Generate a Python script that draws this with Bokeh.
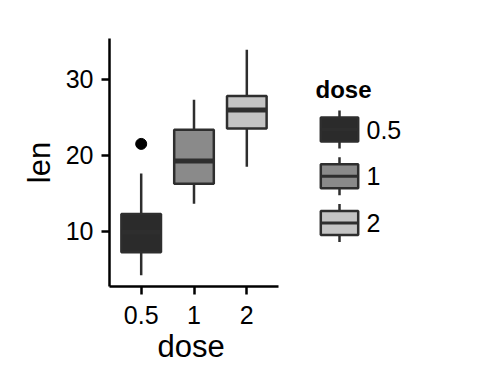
from bokeh.plotting import figure
from bokeh.models import Range1d, FixedTicker, Title
from bokeh.core.properties import value
from bokeh.embed import file_html
from bokeh.resources import INLINE

# ---- data (ToothGrowth len by dose) ----
doses = ["0.5", "1", "2"]
lower_whisker = [4.2, 13.6, 18.5]
q1 = [7.225, 16.25, 23.525]
median = [9.85, 19.25, 25.95]
q3 = [12.25, 23.375, 27.825]
upper_whisker = [17.6, 27.3, 33.9]
outlier_dose = ["0.5"]
outlier_len = [21.5]
y_ticks = [10, 20, 30]

fills = ["#2b2b2b", "#8a8a8a", "#c4c4c4"]
edge = "#2e2e2e"
FONT = "Liberation Sans"

pos = [i + 1 for i in range(len(doses))]
box_w = 0.75

# ---- layout (pixels) ----
W, H = 470, 376
border_left, border_top = 109, 38
panel_w = 169          # width of the boxplot panel
frame_h = 248
frame_w = W - border_left
x_lo, x_hi = 0.4, 3.6
x_end = x_lo + frame_w * (x_hi - x_lo) / panel_w

p = figure(width=W, height=H,
           x_range=Range1d(x_lo, x_end), y_range=Range1d(2.715, 35.385),
           output_backend="svg", toolbar_location=None,
           min_border_left=border_left, min_border_right=0,
           min_border_top=border_top, min_border_bottom=H - border_top - frame_h)
p.outline_line_color = None
p.xgrid.visible = False
p.ygrid.visible = False
p.background_fill_color = "white"
p.border_fill_color = "white"

# whiskers
p.segment(x0=pos, y0=q3, x1=pos, y1=upper_whisker, line_color=edge, line_width=2.5)
p.segment(x0=pos, y0=q1, x1=pos, y1=lower_whisker, line_color=edge, line_width=2.5)
# boxes
p.vbar(x=pos, width=box_w, bottom=q1, top=q3, fill_color=fills,
       line_color=edge, line_width=2.5)
# medians
p.segment(x0=[x - box_w / 2 for x in pos], y0=median,
          x1=[x + box_w / 2 for x in pos], y1=median,
          line_color=edge, line_width=5)
# outliers
p.scatter(x=[doses.index(d) + 1 for d in outlier_dose], y=outlier_len,
          size=11, color="black")

p.xaxis.ticker = FixedTicker(ticks=pos)
p.xaxis.bounds = (x_lo, x_hi)
p.xaxis.major_label_overrides = {x: d for x, d in zip(pos, doses)}
p.yaxis.ticker = FixedTicker(ticks=y_ticks)
p.yaxis.axis_label = "len"
for ax in (p.xaxis[0], p.yaxis[0]):
    ax.axis_line_color = "black"
    ax.axis_line_width = 2.5
    ax.major_tick_line_color = "black"
    ax.major_tick_line_width = 2.5
    ax.major_tick_out = 8
    ax.major_tick_in = 0
    ax.minor_tick_line_color = None
    ax.major_label_text_font = FONT
    ax.major_label_text_font_size = "25px"
    ax.major_label_text_color = "black"
    ax.axis_label_text_font = FONT
    ax.axis_label_text_font_size = "31px"
    ax.axis_label_text_font_style = "normal"
    ax.axis_label_text_color = "black"
p.xaxis.major_label_standoff = 11
p.yaxis.major_label_standoff = 8
p.yaxis.axis_label_standoff = 6

# x-axis title, centred under the boxplot panel only
p.add_layout(Title(text="dose", align="left", offset=48, standoff=0,
                   text_font=FONT, text_font_size="31px", text_font_style="normal",
                   text_color="black"), "below")

# ---- legend, drawn in canvas-pixel coordinates on extra ranges ----
fl, ft = border_left, border_top
p.extra_x_ranges = {"px": Range1d(fl, fl + frame_w)}
p.extra_y_ranges = {"py": Range1d(ft + frame_h, ft)}
kw = dict(x_range_name="px", y_range_name="py")

key_x = 339
key_half_w = 18.7
key_half_h = 12
whisk_half = 19
first_c = 129
spacing = 46.8
centers = [first_c + i * spacing for i in range(len(doses))]
n = len(doses)

p.segment(x0=[key_x] * n, y0=[c - whisk_half for c in centers],
          x1=[key_x] * n, y1=[c + whisk_half for c in centers],
          line_color=edge, line_width=2.5, **kw)
p.quad(left=key_x - key_half_w, right=key_x + key_half_w,
       top=[c - key_half_h for c in centers], bottom=[c + key_half_h for c in centers],
       fill_color=fills, line_color=edge, line_width=2.5, **kw)
p.segment(x0=[key_x - key_half_w] * n, y0=centers,
          x1=[key_x + key_half_w] * n, y1=centers,
          line_color=edge, line_width=3, **kw)
p.text(x=[366] * n, y=centers, text=doses,
       text_baseline="middle", text_align="left",
       text_font=value(FONT), text_font_size="25px", text_color="black", **kw)
p.text(x=[315], y=[89], text=["dose"], text_baseline="middle", text_align="left",
       text_font=value(FONT), text_font_size="24px", text_font_style="bold",
       text_color="black", **kw)

open("out.html", "w").write(file_html(p, INLINE))
